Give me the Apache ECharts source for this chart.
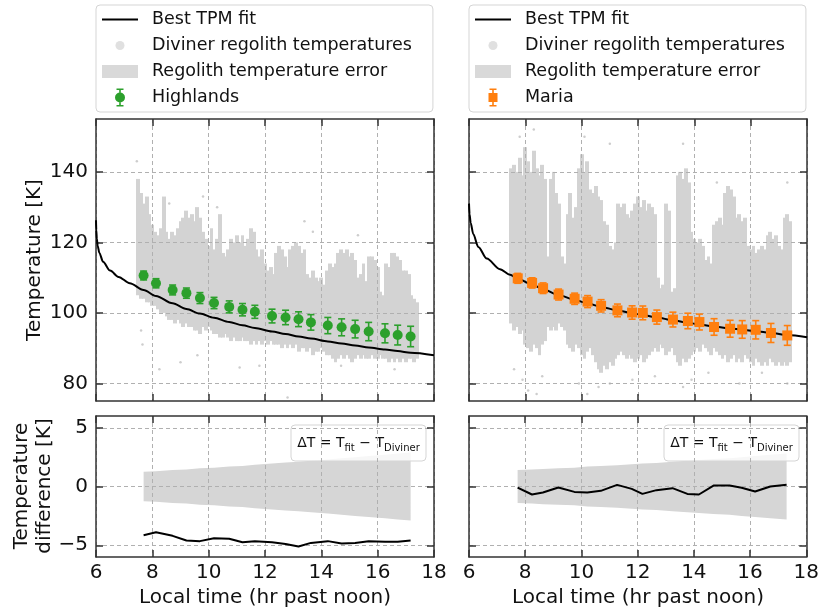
<!DOCTYPE html>
<html><head><meta charset="utf-8">
<script src="https://cdn.jsdelivr.net/npm/echarts@6/dist/echarts.min.js"></script>
<style>html,body{margin:0;padding:0;background:#fff}#c{width:822px;height:611px}</style>
</head><body><div id="c"></div>
<script>
// ---------------- data ----------------
const timeMin = 6, timeMax = 18, timeStep = 2;
const tempTicks = [80, 100, 120, 140];
const diffTicks = [-5, 0, 5];

// Diviner cloud: vertical streaks (local time, low, high)
const cloudX = [7.5,7.6,7.7,7.8,7.9,8.0,8.1,8.2,8.3,8.4,
  8.5,8.6,8.7,8.8,8.9,9.0,9.1,9.2,9.3,9.4,
  9.5,9.6,9.7,9.8,9.9,10.0,10.1,10.2,10.3,10.4,
  10.5,10.6,10.7,10.8,10.9,11.0,11.1,11.2,11.3,11.4,
  11.5,11.6,11.7,11.8,11.9,12.0,12.1,12.2,12.3,12.4,
  12.5,12.6,12.7,12.8,12.9,13.0,13.1,13.2,13.3,13.4,
  13.5,13.6,13.7,13.8,13.9,14.0,14.1,14.2,14.3,14.4,
  14.5,14.6,14.7,14.8,14.9,15.0,15.1,15.2,15.3,15.4,
  15.5,15.6,15.7,15.8,15.9,16.0,16.1,16.2,16.3,16.4,
  16.5,16.6,16.7,16.8,16.9,17.0,17.1,17.2,17.3,17.4];
const hlCloudHigh = [138,134,131,133,128,125,123,122,124,133,
  123,121,123,122,124,126,127,129,127,128,
  126,130,127,123,121,119,124,118,121,128,
  117,116,118,121,120,122,120,122,119,121,
  124,123,118,116,118,114,112,113,111,117,
  119,118,116,113,118,119,120,119,117,118,
  111,110,112,110,109,110,108,112,114,113,
  114,117,118,117,118,116,117,115,110,111,
  114,109,116,116,115,113,106,105,114,113,
  117,117,116,115,112,112,111,105,104,103];
const hlCloudLow = [105,104,104,103,103,102,102,101,100,100,
  99,98,98,97,98,97,96,97,96,96,
  95,95,94,96,95,96,95,94,94,93,
  93,94,93,92,93,92,92,93,92,92,
  91,92,91,92,91,92,91,92,91,91,
  91,90,91,90,91,90,91,89,90,90,
  89,90,88,89,89,90,89,88,88,87,
  86,87,88,87,88,87,86,87,88,87,
  88,87,87,88,87,87,88,87,87,86,
  87,86,87,86,87,86,87,87,86,87];
const mrCloudHigh = [141,142,140,144,139,147,143,140,146,141,
  139,142,138,116,138,140,134,131,116,114,
  128,134,127,130,141,145,140,143,135,134,
  136,133,132,126,125,119,118,120,131,130,
  131,128,127,129,131,133,130,132,129,131,
  130,128,110,107,108,131,129,106,107,139,
  140,138,141,137,123,121,120,121,119,115,
  116,114,125,126,127,125,134,136,135,133,
  127,128,126,127,119,118,119,117,118,119,
  118,122,123,121,122,119,118,127,128,126];
const mrCloudLow = [97,95,96,94,95,91,90,89,91,90,
  88,91,92,96,95,96,95,97,96,95,
  91,90,89,91,90,88,87,89,90,88,
  86,84,83,85,84,86,85,87,88,89,
  88,87,88,87,86,87,88,86,87,88,
  89,90,89,91,90,88,89,90,88,86,
  85,87,86,87,88,89,90,89,91,90,
  89,88,90,89,88,87,88,86,87,88,
  86,87,86,88,87,86,85,87,86,85,
  86,85,87,86,85,86,85,86,85,86];
// sparse outlying Diviner points
const hlDotX = [7.45,7.6,7.65,8.25,8.6,9.0,9.6,9.8,10.3,11.1,11.8,12.8,13.4,13.7,14.7,15.3,16.6,17.3];
const hlDotT = [143,95,91,84,131,86,88,133,130,84.5,85,76,126,123,85,122,84,90];
const mrDotX = [7.6,7.9,8.1,8.4,8.6,9.9,10.2,10.6,11.0,11.8,12.6,13.6,13.9,14.5,15.6,16.4,17.3,7.8,8.3,10.1,11.0,13.6,14.8,17.3];
const mrDotT = [84,81,78,77,82,80,77,79,80,81,82,79,81,83,80,83,80,150,152,150,148,148,137,137];

// Best TPM fit curves
const hlFitX = [6.0,6.01,6.03,6.06,6.12,6.25,6.5,6.8,7.2,7.69,8.13,8.72,9.21,9.69,10.19,10.73,11.2,11.64,12.25,12.73,13.19,13.63,14.23,14.72,15.2,15.68,16.26,16.71,17.17,18.0];
const hlFitT = [126.3,123.5,121.0,119.0,117.0,114.5,112.0,110.2,108.4,106.5,104.8,102.7,101.1,99.8,98.6,97.4,96.5,95.7,94.7,94.0,93.3,92.7,91.9,91.3,90.75,90.2,89.6,89.15,88.7,88.0];
const mrFitX = [6.0,6.02,6.06,6.15,6.33,6.63,7.1,7.46,7.73,8.24,8.63,9.18,9.75,10.21,10.69,11.27,11.79,12.17,12.67,13.24,13.77,14.18,14.7,15.27,15.7,16.18,16.72,17.3,18.0];
const mrFitT = [131.0,128.0,125.5,122.4,118.7,115.4,112.4,110.8,109.7,108.0,106.7,105.1,103.7,102.7,101.7,100.7,99.9,99.4,98.7,97.9,97.2,96.7,96.1,95.6,95.2,94.8,94.3,93.7,93.1];

// Binned means with errors
const hlX = [7.69,8.13,8.72,9.21,9.69,10.19,10.73,11.2,11.64,12.25,12.73,13.19,13.63,14.23,14.72,15.2,15.68,16.26,16.71,17.17];
const hlT = [110.6,108.4,106.5,105.6,104.2,102.8,101.7,100.9,100.3,99.1,98.7,98.2,97.3,96.4,95.9,95.4,94.7,94.2,93.7,93.3];
const hlErr = [1.25,1.3,1.4,1.45,1.55,1.6,1.7,1.75,1.85,1.95,2.05,2.1,2.2,2.3,2.4,2.5,2.6,2.7,2.8,2.9];
const hlDiff = [-4.15,-3.9,-4.2,-4.6,-4.65,-4.4,-4.45,-4.75,-4.65,-4.75,-4.9,-5.1,-4.8,-4.65,-4.85,-4.8,-4.65,-4.7,-4.7,-4.6];

const mrX = [7.73,8.24,8.63,9.18,9.75,10.21,10.69,11.27,11.79,12.17,12.67,13.24,13.77,14.18,14.7,15.27,15.7,16.18,16.72,17.3];
const mrT = [109.8,108.5,107.0,105.2,104.0,103.2,102.0,100.7,100.1,100.0,98.8,98.1,97.7,97.4,96.0,95.5,95.3,95.2,94.3,93.6];
const mrErr = [1.4,1.45,1.5,1.55,1.6,1.7,1.75,1.8,1.9,1.95,2.0,2.1,2.2,2.25,2.35,2.4,2.5,2.6,2.7,2.8];
const mrDiff = [-0.09,-0.68,-0.51,-0.09,-0.46,-0.51,-0.37,0.14,-0.2,-0.63,-0.31,-0.14,-0.63,-0.68,0.08,0.08,-0.11,-0.43,0.0,0.14];

// ---------------- styling ----------------
const FF = 'DejaVu Sans';
const frameC = '#333';
const gridC = '#b0b0b0';
const cloudC = '#d3d3d3';
const bandC = '#d6d6d6';
const green = '#2ca02c', orange = '#ff7f0e';

const chart = echarts.init(document.getElementById('c'), null, {renderer: 'canvas'});

const grids = [
  {left: 96, top: 119, width: 338, height: 282},
  {left: 469, top: 119, width: 338, height: 282},
  {left: 96, top: 416, width: 338, height: 141},
  {left: 469, top: 416, width: 338, height: 141}
];

function xAx(g, pos, showLabel) {
  return {
    type: 'value', gridIndex: g, position: pos, min: timeMin, max: timeMax, interval: timeStep,
    axisLine: {show: true, onZero: false, lineStyle: {color: frameC, width: 1.5}},
    axisTick: {show: true, inside: true, length: 7, lineStyle: {color: frameC, width: 1.5}},
    axisLabel: {show: showLabel, margin: 6, fontSize: 20, fontFamily: FF, color: '#111',
      showMinLabel: true, showMaxLabel: true},
    splitLine: {show: pos === 'bottom', lineStyle: {color: gridC, type: [4, 3], width: 1}}
  };
}
function yAx(g, pos, min, max, ticks, showLabel) {
  return {
    type: 'value', gridIndex: g, position: pos, min: min, max: max,
    axisLine: {show: true, onZero: false, lineStyle: {color: frameC, width: 1.5}},
    axisTick: {show: true, inside: true, length: 7, customValues: ticks, lineStyle: {color: frameC, width: 1.5}},
    axisLabel: {show: showLabel, customValues: ticks, margin: 8, fontSize: 20, fontFamily: FF, color: '#111',
      formatter: v => (v < 0 ? '\u2212' + Math.abs(v) : String(v))},
    splitLine: {show: pos === 'left', lineStyle: {color: gridC, type: [4, 3], width: 1}}
  };
}

const xAxes = [
  xAx(0, 'bottom', false), xAx(1, 'bottom', false), xAx(2, 'bottom', true), xAx(3, 'bottom', true),
  xAx(0, 'top', false), xAx(1, 'top', false), xAx(2, 'top', false), xAx(3, 'top', false)
];
const yAxes = [
  yAx(0, 'left', 75, 155, tempTicks, true), yAx(1, 'left', 75, 155, tempTicks, false),
  yAx(2, 'left', -6, 6, diffTicks, true), yAx(3, 'left', -6, 6, diffTicks, false),
  yAx(0, 'right', 75, 155, tempTicks, false), yAx(1, 'right', 75, 155, tempTicks, false),
  yAx(2, 'right', -6, 6, diffTicks, false), yAx(3, 'right', -6, 6, diffTicks, false)
];

function cloudRender(params, api) {
  const x = api.value(0), lo = api.value(1), hi = api.value(2);
  const p1 = api.coord([x - 0.05, hi]);
  const p2 = api.coord([x + 0.05, lo]);
  const x0 = Math.floor(p1[0]), x1 = Math.ceil(p2[0]);
  return {type: 'rect', shape: {x: x0, y: p1[1], width: x1 - x0, height: p2[1] - p1[1]},
    style: {fill: cloudC}};
}
function errRender(color) {
  return function (params, api) {
    const x = api.value(0), y = api.value(1), e = api.value(2);
    const t = api.coord([x, y + e]), b = api.coord([x, y - e]);
    const st = {stroke: color, lineWidth: 1.6};
    return {type: 'group', children: [
      {type: 'line', shape: {x1: t[0], y1: t[1], x2: b[0], y2: b[1]}, style: st},
      {type: 'line', shape: {x1: t[0] - 3.5, y1: t[1], x2: t[0] + 3.5, y2: t[1]}, style: st},
      {type: 'line', shape: {x1: b[0] - 3.5, y1: b[1], x2: b[0] + 3.5, y2: b[1]}, style: st}
    ]};
  };
}
function bandRender(xs, errs) {
  return function (params, api) {
    if (params.dataIndex !== 0) return null;
    const pts = [];
    for (let i = 0; i < xs.length; i++) pts.push(api.coord([xs[i], errs[i]]));
    for (let i = xs.length - 1; i >= 0; i--) pts.push(api.coord([xs[i], -errs[i]]));
    return {type: 'polygon', shape: {points: pts}, style: {fill: bandC}};
  };
}

function panelSeries(gTop, gBot, cLow, cHigh, dotX, dotT, fitX, fitT, px, pt, perr, pdiff, name, color, symbol, symSize) {
  return [
    {name: 'Diviner regolith temperatures', type: 'custom', xAxisIndex: gTop, yAxisIndex: gTop, z: -1,
      renderItem: cloudRender, itemStyle: {color: cloudC}, clip: true, silent: true,
      encode: {x: 0, y: [1, 2]},
      data: cloudX.map((x, i) => [x, cLow[i], cHigh[i]])},
    {name: 'Diviner regolith temperatures', type: 'scatter', xAxisIndex: gTop, yAxisIndex: gTop, z: -1,
      symbolSize: 2.5, itemStyle: {color: '#cdcdcd', opacity: 1}, silent: true,
      data: dotX.map((x, i) => [x, dotT[i]])},
    {name: 'Best TPM fit', type: 'line', xAxisIndex: gTop, yAxisIndex: gTop, z: 3,
      showSymbol: false, smooth: 0.3, smoothMonotone: 'x', color: '#000',
      lineStyle: {color: '#000', width: 2}, silent: true,
      data: fitX.map((x, i) => [x, fitT[i]])},
    {name: name + ' err', type: 'custom', xAxisIndex: gTop, yAxisIndex: gTop, z: 4,
      renderItem: errRender(color), silent: true, encode: {x: 0, y: [1, 2]},
      data: px.map((x, i) => [x, pt[i], perr[i]])},
    {name: name, type: 'scatter', xAxisIndex: gTop, yAxisIndex: gTop, z: 5,
      symbol: symbol, symbolSize: symSize, itemStyle: {color: color, opacity: 1}, silent: true,
      data: px.map((x, i) => [x, pt[i]])},
    {name: 'Regolith temperature error', type: 'custom', xAxisIndex: gBot, yAxisIndex: gBot, z: -1,
      renderItem: bandRender(px, perr), itemStyle: {color: bandC}, silent: true,
      encode: {x: 0, y: 1},
      data: px.map((x, i) => [x, perr[i]])},
    {name: name + ' diff', type: 'line', xAxisIndex: gBot, yAxisIndex: gBot, z: 3,
      showSymbol: false, color: '#000', lineStyle: {color: '#000', width: 2}, silent: true,
      data: px.map((x, i) => [x, pdiff[i]])}
  ];
}

// legend icons (bounding box 45 x 19, drawing in the left 36 px)
const BB = 'M0 0 M45 19 ';
const iconLine = 'path://' + BB + 'M0 8.5 L36 8.5 L36 10.5 L0 10.5 Z';
const iconDot = 'path://' + BB + 'M13.5 9.5 A4.5 4.5 0 1 1 22.5 9.5 A4.5 4.5 0 1 1 13.5 9.5 Z';
const iconRect = 'path://' + BB + 'M0 3 L36 3 L36 16 L0 16 Z';
const iconErrC = 'path://' + BB + 'M17.2 0.5 L18.8 0.5 L18.8 18.5 L17.2 18.5 Z M14.5 0.5 L21.5 0.5 L21.5 2 L14.5 2 Z M14.5 17 L21.5 17 L21.5 18.5 L14.5 18.5 Z M13 9.5 A5 5 0 1 1 23 9.5 A5 5 0 1 1 13 9.5 Z';
const iconErrS = 'path://' + BB + 'M17.2 0.5 L18.8 0.5 L18.8 18.5 L17.2 18.5 Z M14.5 0.5 L21.5 0.5 L21.5 2 L14.5 2 Z M14.5 17 L21.5 17 L21.5 18.5 L14.5 18.5 Z M13.5 5 L22.5 5 L22.5 14 L13.5 14 Z';

function legendFor(left, lastName, lastIcon) {
  return {
    left: left, top: 5, orient: 'vertical', itemWidth: 45, itemHeight: 19, itemGap: 7,
    padding: [5, 21, 5, 6], backgroundColor: '#fff', borderColor: '#d5d5d5', borderWidth: 1, borderRadius: 4,
    selectedMode: false, itemStyle: {borderWidth: 0},
    textStyle: {fontFamily: FF, fontSize: 17.5, color: '#111'},
    data: [
      {name: 'Best TPM fit', icon: iconLine, itemStyle: {color: '#000'}},
      {name: 'Diviner regolith temperatures', icon: iconDot, itemStyle: {color: '#e0e0e0'}},
      {name: 'Regolith temperature error', icon: iconRect, itemStyle: {color: '#d9d9d9'}},
      {name: lastName, icon: lastIcon}
    ]
  };
}

function dtBox(x, y) {
  return {type: 'group', x: x, y: y, z: 50, children: [
    {type: 'rect', shape: {x: 0, y: 0, width: 135, height: 36, r: 4},
      style: {fill: 'rgba(255,255,255,0.8)', stroke: '#d5d5d5', lineWidth: 1}},
    {type: 'text', x: 67.5, y: 18, style: {
      text: '{m|\u0394T = T}{s|fit}{m| \u2212 T}{s|Diviner}', align: 'center', verticalAlign: 'middle',
      rich: {
        m: {fontFamily: FF, fontSize: 14, lineHeight: 20, fill: '#111', verticalAlign: 'middle'},
        s: {fontFamily: FF, fontSize: 10, lineHeight: 10, fill: '#111', verticalAlign: 'bottom'}
      }}}
  ]};
}
function label(text, x, y, rot) {
  return {type: 'text', x: x, y: y, rotation: rot || 0, z: 50,
    style: {text: text, fontFamily: FF, fontSize: 20, fill: '#111', align: 'center', verticalAlign: 'middle'}};
}

const option = {
  animation: false,
  backgroundColor: '#fff',
  grid: grids,
  xAxis: xAxes,
  yAxis: yAxes,
  legend: [legendFor(96, 'Highlands', iconErrC), legendFor(469, 'Maria', iconErrS)],
  series: [].concat(
    panelSeries(0, 2, hlCloudLow, hlCloudHigh, hlDotX, hlDotT, hlFitX, hlFitT, hlX, hlT, hlErr, hlDiff, 'Highlands', green, 'circle', 10),
    panelSeries(1, 3, mrCloudLow, mrCloudHigh, mrDotX, mrDotT, mrFitX, mrFitT, mrX, mrT, mrErr, mrDiff, 'Maria', orange, 'rect', 10)
  ),
  graphic: [
    dtBox(291, 425), dtBox(664, 425),
    label('Temperature [K]', 35, 260, Math.PI / 2),
    label('Temperature', 22, 486, Math.PI / 2),
    label('difference [K]', 45, 486, Math.PI / 2),
    label('Local time (hr past noon)', 265, 598),
    label('Local time (hr past noon)', 638, 598)
  ]
};
chart.setOption(option);
</script>
</body></html>
